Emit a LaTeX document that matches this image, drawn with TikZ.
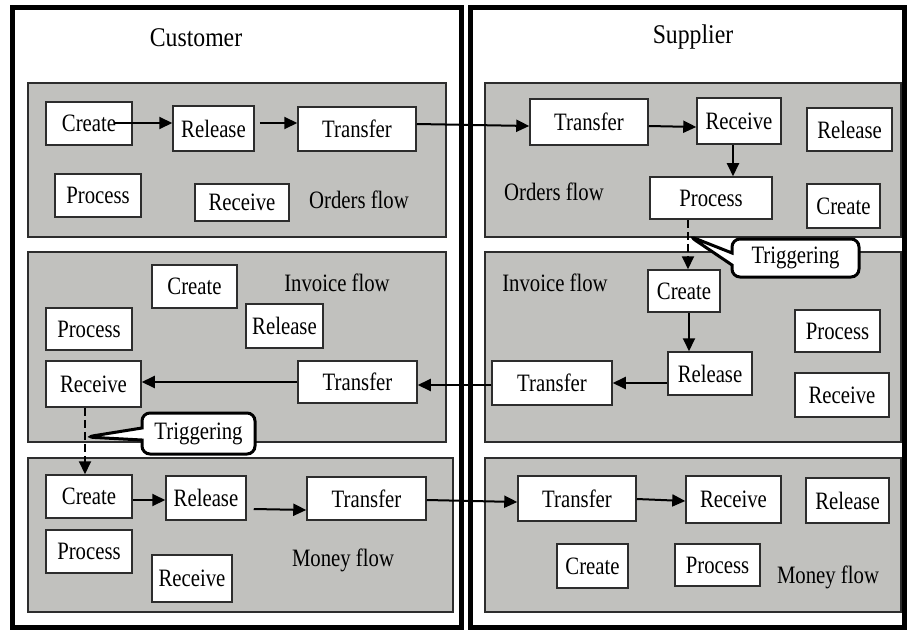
\documentclass[tikz,border=0pt]{standalone}
\usepackage{fontspec}
\setmainfont{Liberation Serif}
\newfontfamily\boxfont[FakeStretch=0.83]{Liberation Serif}
\newfontfamily\headfont[FakeStretch=0.88]{Liberation Serif}
\usetikzlibrary{arrows.meta,shapes.callouts}
\definecolor{panelgray}{RGB}{193,193,190}
\definecolor{edgegray}{RGB}{45,45,45}

\begin{document}
\begin{tikzpicture}[x=1pt,y=-1pt,
  frame/.style={draw=black,line width=5pt},
  panel/.style={draw=edgegray,fill=panelgray,line width=1.5pt},
  box/.style={draw=edgegray,fill=white,line width=1.5pt,inner sep=0pt,
    font=\boxfont\fontsize{25}{27}\selectfont},
  lbl/.style={inner sep=0pt,font=\boxfont\fontsize{25}{27}\selectfont},
  head/.style={inner sep=0pt,font=\headfont\fontsize{27}{29}\selectfont},
  arr/.style={line width=2pt,-{Triangle[length=13pt,width=12pt]}},
  trig/.style={arr,dash pattern=on 8pt off 4pt},
  callbox/.style={rectangle callout,draw=black,fill=white,line width=3pt,
    rounded corners=8pt,inner sep=0pt,callout pointer width=12pt,
    font=\boxfont\fontsize{25}{27}\selectfont}
]
% page
\fill[white] (0,0) rectangle (907,631);
\useasboundingbox (0,0) rectangle (907,631);

% party frames
\draw[frame] (12.5,7.5) rectangle (461,627.5);
\draw[frame] (470.5,7.5) rectangle (904.5,627.5);
\node[head] (customer) at (196,38) {Customer};
\node[head] (supplier) at (693,37) {Supplier};

% flow panels
\draw[panel] (28,83) rectangle (446,237);
\draw[panel] (28,252) rectangle (446,442);
\draw[panel] (28,458) rectangle (453,612);
\draw[panel] (485,83) rectangle (901,237);
\draw[panel] (485,252) rectangle (901,442);
\draw[panel] (485,458) rectangle (901,612);

\node[lbl] (ordC) at (359,200) {Orders flow};
\node[lbl] (ordS) at (554,192) {Orders flow};
\node[lbl] (invC) at (337,283) {Invoice flow};
\node[lbl] (invS) at (555,283) {Invoice flow};
\node[lbl] (monC) at (343,560) {Money flow};
\node[lbl] (monS) at (828,577) {Money flow};

% customer: orders flow
\node[box,minimum width=86pt,minimum height=43pt] (cCreate) at (89,123.5) {Create};
\node[box,minimum width=81pt,minimum height=45pt] (cRelease) at (213.5,128.5) {Release};
\node[box,minimum width=118pt,minimum height=44pt] (cTransfer) at (357,129) {Transfer};
\node[box,minimum width=86pt,minimum height=43pt] (cProcess) at (98,195.5) {Process};
\node[box,minimum width=94pt,minimum height=37pt] (cReceive) at (242,202.5) {Receive};

% supplier: orders flow
\node[box,minimum width=118pt,minimum height=46pt] (sTransfer) at (589,122) {Transfer};
\node[box,minimum width=84pt,minimum height=46pt] (sReceive) at (739,121) {Receive};
\node[box,minimum width=85pt,minimum height=43pt] (sRelease) at (849.5,129.5) {Release};
\node[box,minimum width=122pt,minimum height=42pt] (sProcess) at (711,198) {Process};
\node[box,minimum width=73pt,minimum height=44pt] (sCreate) at (843.5,206) {Create};

% supplier: invoice flow
\node[box,minimum width=72pt,minimum height=42pt] (iCreate) at (684,291) {Create};
\node[box,minimum width=84pt,minimum height=43pt] (iRelease) at (710,373.5) {Release};
\node[box,minimum width=120pt,minimum height=44pt] (iTransfer) at (552,383) {Transfer};
\node[box,minimum width=85pt,minimum height=42pt] (iProcess) at (837.5,331) {Process};
\node[box,minimum width=94pt,minimum height=44pt] (iReceive) at (842,395) {Receive};

% customer: invoice flow
\node[box,minimum width=85pt,minimum height=43pt] (jCreate) at (194.5,286.5) {Create};
\node[box,minimum width=86pt,minimum height=42pt] (jProcess) at (89,329) {Process};
\node[box,minimum width=77pt,minimum height=44pt] (jRelease) at (284.5,326) {Release};
\node[box,minimum width=95pt,minimum height=46pt] (jReceive) at (93.5,384) {Receive};
\node[box,minimum width=119pt,minimum height=42pt] (jTransfer) at (357.5,382) {Transfer};

% customer: money flow
\node[box,minimum width=86pt,minimum height=43pt] (mCreate) at (89,496.5) {Create};
\node[box,minimum width=80pt,minimum height=44pt] (mRelease) at (206,498) {Release};
\node[box,minimum width=119pt,minimum height=43pt] (mTransfer) at (366.5,498.5) {Transfer};
\node[box,minimum width=86pt,minimum height=43pt] (mProcess) at (89,551.5) {Process};
\node[box,minimum width=80pt,minimum height=47pt] (mReceive) at (192,578.5) {Receive};

% supplier: money flow
\node[box,minimum width=118pt,minimum height=45pt] (nTransfer) at (577,498.5) {Transfer};
\node[box,minimum width=95pt,minimum height=47pt] (nReceive) at (733.5,499.5) {Receive};
\node[box,minimum width=83pt,minimum height=45pt] (nRelease) at (847.5,500.5) {Release};
\node[box,minimum width=71pt,minimum height=44pt] (nCreate) at (592.5,566) {Create};
\node[box,minimum width=85pt,minimum height=42pt] (nProcess) at (717.5,565) {Process};

% orders flow connectors
\draw[arr] ([xshift=-19pt]cCreate.east |- 0,123) -- (cRelease.west |- 0,123);
\draw[arr] ([xshift=5pt]cRelease.east |- 0,123) -- (cTransfer.west |- 0,123);
\draw[arr] (cTransfer.east |- 0,124) -- (sTransfer.west |- 0,126);
\draw[arr] (sTransfer.east |- 0,126) -- (sReceive.west |- 0,127);
\draw[arr] (733,0 |- sReceive.south) -- (733,0 |- sProcess.north);

% invoice flow connectors
\draw[arr] (689,0 |- iCreate.south) -- (689,0 |- iRelease.north);
\draw[arr] (iRelease.west |- 0,383) -- (iTransfer.east |- 0,383);
\draw[arr] (iTransfer.west |- 0,385) -- (jTransfer.east |- 0,385);
\draw[arr] (jTransfer.west |- 0,382) -- (jReceive.east |- 0,382);

% money flow connectors
\draw[arr] (mCreate.east |- 0,500) -- (mRelease.west |- 0,500);
\draw[arr] ([xshift=7pt]mRelease.east |- 0,509) -- (mTransfer.west |- 0,510);
\draw[arr] (mTransfer.east |- 0,500) -- (nTransfer.west |- 0,502);
\draw[arr] (nTransfer.east |- 0,499) -- (nReceive.west |- 0,501);

% triggering links between flows
\draw[trig] (688,0 |- sProcess.south) -- (688,0 |- iCreate.north);
\draw[trig] (85,0 |- jReceive.south) -- (85,0 |- mCreate.north);

\coordinate (tR) at (689,236);
\coordinate (tL) at (86,437);
\node[callbox,minimum width=127pt,minimum height=38pt,
  callout absolute pointer=(tR)] (trigR) at (795.5,258) {Triggering};
\node[callbox,minimum width=113pt,minimum height=41pt,
  callout absolute pointer=(tL)] (trigL) at (198.5,433.5) {Triggering};
\end{tikzpicture}
\end{document}
